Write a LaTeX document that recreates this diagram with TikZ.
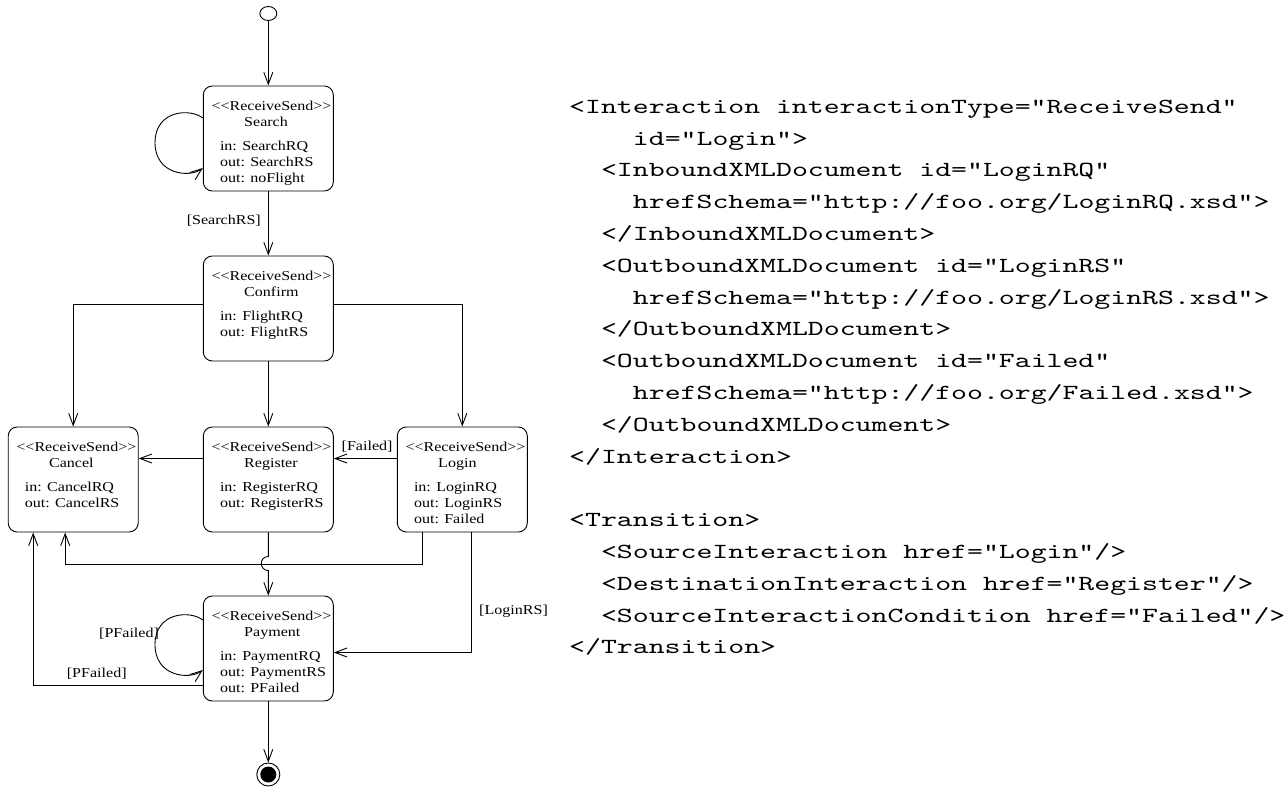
\documentclass[tikz,border=0pt]{standalone}
\usepackage{fontspec}
\usetikzlibrary{arrows.meta,calc,shapes.geometric}
\newfontfamily\dfont[FakeStretch=1.18]{Liberation Serif}
\newfontfamily\cfont[FakeStretch=1.41]{lmmono10-regular.otf}
\newcommand\rsstate[5]{%
  \node[box] (#1) at (#2+65,#3+52.5) {};
  \node[txt] (#1-st) at (#2+8,#3+24) {<<ReceiveSend>>};
  \node[txt] (#1-nm) at (#2+40.7,#3+40) {#4};
  \foreach \t [count=\i] in {#5} {\node[txt] (#1-l\i) at (#2+16.5,#3+48+16*\i) {\t};}
}
\newcommand\codeline[3]{\node[code] (c#1) at (569+15.93*#2,113.3+31.8*#1-31.8) {#3};}
\begin{document}
\begin{tikzpicture}[x=1pt,y=-1pt,
  box/.style={draw, rounded corners=9pt, minimum width=130pt, minimum height=105pt, inner sep=0pt, line width=0.9pt},
  txt/.style={anchor=base west, inner sep=0pt, font=\dfont\fontsize{13.6}{16}\selectfont},
  code/.style={anchor=base west, inner sep=0pt, font=\cfont\fontsize{21.5}{31.8}\selectfont},
  arr/.style={line width=0.9pt, -{Straight Barb[length=12pt,width=9pt]}}]
\useasboundingbox (0,0) rectangle (1288,787);

% states
\rsstate{search}{203.3}{86}{Search}{in: SearchRQ, out: SearchRS, out: noFlight}
\rsstate{confirm}{203.3}{256}{Confirm}{in: FlightRQ, out: FlightRS}
\rsstate{cancel}{8.2}{427}{Cancel}{in: CancelRQ, out: CancelRS}
\rsstate{register}{203.3}{427}{Register}{in: RegisterRQ, out: RegisterRS}
\rsstate{login}{397.3}{427}{Login}{in: LoginRQ, out: LoginRS, out: Failed}
\rsstate{payment}{203.3}{596}{Payment}{in: PaymentRQ, out: PaymentRS, out: PFailed}

\node[draw, ellipse, minimum width=17pt, minimum height=14pt, inner sep=0pt, line width=0.9pt] (init) at (268.3,13.5) {};
\node[draw, circle, minimum size=23pt, inner sep=0pt, line width=0.9pt] (final) at (268.3,774.5) {};
\node[circle, fill, minimum size=16pt, inner sep=0pt] (finaldot) at (final.center) {};

% connectors
\draw[arr] (init.south) -- (search.north);
\draw[arr] ($(search.west)+(0,-20.5)$) .. controls (190,108) and (155,110) .. (155,142.7)
  .. controls (155,175) and (190,178) .. ($(search.west)+(0,29.5)$);
\draw[arr] (search.south) -- (confirm.north);
\node[txt, anchor=base east] (lsearchrs) at (261,224) {[SearchRS]};
\draw[arr] ($(confirm.west)+(0,-4.5)$) -| (cancel.north);
\draw[arr] ($(confirm.east)+(0,-4.5)$) -| (login.north);
\draw[arr] (confirm.south) -- (register.north);
\draw[arr] ($(register.west)+(0,-21)$) -- ($(cancel.east)+(0,-21)$);
\draw[arr] ($(login.west)+(0,-21)$) -- ($(register.east)+(0,-21)$);
\node[txt] (lfailed) at (341.5,450.7) {[Failed]};
\draw[arr] ($(login.south)+(-40,0)$) -- ++(0,31.5) -| ($(cancel.south)+(-8,0)$);
\coordinate (hopA) at (268.3,556.5);
\coordinate (hopB) at (268.3,570.5);
\draw[arr] (register.south) -- (hopA) .. controls ($(hopA)+(-9.3,0)$) and ($(hopB)+(-9.3,0)$) .. (hopB) -- (payment.north);
\draw[arr] ($(login.south)+(8.7,0)$) |- ($(payment.east)+(0,4)$);
\node[txt] (lloginrs) at (479,614) {[LoginRS]};
\draw[arr] ($(payment.west)+(0,36.7)$) -| ($(cancel.south)+(-40,0)$);
\node[txt] (lpfailed2) at (66.7,677.3) {[PFailed]};
\draw[arr] ($(payment.west)+(0,-28.5)$) .. controls (190,610) and (155,612) .. (155,644.7)
  .. controls (155,677) and (190,680) .. ($(payment.west)+(0,21.5)$);
\node[txt] (lpfailed1) at (99,637.7) {[PFailed]};
\draw[arr] (payment.south) -- (final.north);

% XML code
\codeline{1}{0}{<Interaction interactionType="ReceiveSend"}
\codeline{2}{4}{id="Login">}
\codeline{3}{2}{<InboundXMLDocument id="LoginRQ"}
\codeline{4}{4}{hrefSchema="http://foo.org/LoginRQ.xsd">}
\codeline{5}{2}{</InboundXMLDocument>}
\codeline{6}{2}{<OutboundXMLDocument id="LoginRS"}
\codeline{7}{4}{hrefSchema="http://foo.org/LoginRS.xsd">}
\codeline{8}{2}{</OutboundXMLDocument>}
\codeline{9}{2}{<OutboundXMLDocument id="Failed"}
\codeline{10}{4}{hrefSchema="http://foo.org/Failed.xsd">}
\codeline{11}{2}{</OutboundXMLDocument>}
\codeline{12}{0}{</Interaction>}
\codeline{14}{0}{<Transition>}
\codeline{15}{2}{<SourceInteraction href="Login"/>}
\codeline{16}{2}{<DestinationInteraction href="Register"/>}
\codeline{17}{2}{<SourceInteractionCondition href="Failed"/>}
\codeline{18}{0}{</Transition>}
\end{tikzpicture}
\end{document}
